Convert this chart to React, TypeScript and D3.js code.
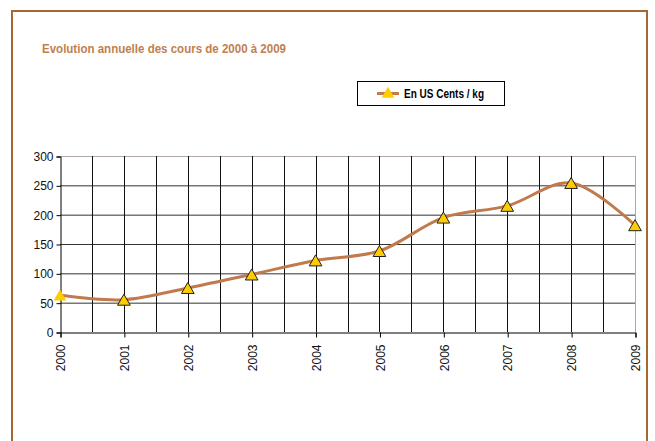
import { useEffect, useRef } from 'react';
import * as d3 from 'd3';

const years = [2000, 2001, 2002, 2003, 2004, 2005, 2006, 2007, 2008, 2009];
const prices = [63, 55, 75, 98, 122, 138, 195, 215, 254, 182];
const yTicks = [0, 50, 100, 150, 200, 250, 300];
const title = 'Evolution annuelle des cours de 2000 à 2009';
const seriesName = 'En US Cents / kg';

const FONT = '"Liberation Sans", Arial, sans-serif';

export default function App() {
  const svgRef = useRef<SVGSVGElement>(null);

  useEffect(() => {
    if (!svgRef.current) return;
    const svg = d3.select(svgRef.current);
    svg.selectAll('*').remove();

    const width = 655;
    const height = 441;

    svg.append('rect')
      .attr('width', width)
      .attr('height', height)
      .attr('fill', '#fff');

    // outer frame
    svg.append('rect')
      .attr('x', 12)
      .attr('y', 11)
      .attr('width', 635)
      .attr('height', 440)
      .attr('fill', 'none')
      .attr('stroke', '#a5692f')
      .attr('stroke-width', 2);

    svg.append('text')
      .attr('x', 42)
      .attr('y', 53)
      .attr('font-family', FONT)
      .attr('font-size', 12.5)
      .attr('font-weight', 'bold')
      .attr('fill', '#c0804e')
      .attr('textLength', 244)
      .attr('lengthAdjust', 'spacingAndGlyphs')
      .text(title);

    const x = d3.scaleLinear().domain([2000, 2009]).range([60, 635]);
    const y = d3.scaleLinear().domain([0, 300]).range([332, 156]);

    const g = svg.append('g');

    // Grid
    g.selectAll('.hgrid')
      .data(yTicks.filter(d => d > 0))
      .join('line')
      .attr('x1', x(2000))
      .attr('x2', x(2009))
      .attr('y1', d => y(d) + 0.5)
      .attr('y2', d => y(d) + 0.5)
      .attr('stroke', d => (d === 300 ? '#b0a8a8' : '#333'))
      .attr('stroke-width', 1);

    const halfSteps = d3.range(2000.5, 2009.01, 0.5);
    g.selectAll('.vgrid')
      .data(halfSteps)
      .join('line')
      .attr('x1', d => Math.round(x(d)) + 0.5)
      .attr('x2', d => Math.round(x(d)) + 0.5)
      .attr('y1', y(300))
      .attr('y2', y(0))
      .attr('stroke', d => (d === 2009 ? '#b0a8a8' : '#111'))
      .attr('stroke-width', 1);

    // Y axis
    const yAxis = g.append('g')
      .attr('transform', `translate(${x(2000) + 0.5},0.5)`)
      .call(d3.axisLeft(y).tickValues(yTicks).tickSize(4).tickPadding(3));
    yAxis.select('.domain').attr('stroke', '#000');
    yAxis.selectAll('line').attr('stroke', '#000');
    yAxis.selectAll('text')
      .attr('font-family', FONT)
      .attr('font-size', 12)
      .attr('fill', '#111');

    // X axis
    const xAxis = g.append('g')
      .attr('transform', `translate(0.5,${y(0) + 0.5})`)
      .call(d3.axisBottom(x).tickValues(years).tickFormat(d3.format('d')).tickSize(5).tickPadding(4));
    xAxis.select('.domain').attr('stroke', '#000');
    xAxis.selectAll('line').attr('stroke', '#000');
    xAxis.selectAll('text')
      .attr('font-family', FONT)
      .attr('font-size', 12)
      .attr('fill', '#111')
      .attr('transform', 'rotate(-90)')
      .attr('text-anchor', 'end')
      .attr('x', -12)
      .attr('y', 0)
      .attr('dy', '0.35em');

    // Series
    const line = d3.line<number>()
      .x((_, i) => x(years[i]))
      .y(d => y(d))
      .curve(d3.curveCatmullRom.alpha(0.5));

    g.append('path')
      .datum(prices)
      .attr('d', line)
      .attr('fill', 'none')
      .attr('stroke', '#c07a4c')
      .attr('stroke-width', 3);

    // triangle bbox centred on the point, like the spreadsheet markers
    const tri = d3.symbol().type(d3.symbolTriangle).size(70);
    g.selectAll('.marker')
      .data(prices)
      .join('path')
      .attr('d', tri)
      .attr('transform', (d, i) => `translate(${x(years[i])},${y(d) + 1.8})`)
      .attr('fill', '#ffcc00')
      .attr('stroke', (_, i) => (i === 0 ? 'none' : '#222'))
      .attr('stroke-width', 1);

    // Legend
    const lg = svg.append('g').attr('transform', 'translate(357,81)');
    lg.append('rect')
      .attr('x', 0.5)
      .attr('y', 0.5)
      .attr('width', 147)
      .attr('height', 24)
      .attr('fill', '#fff')
      .attr('stroke', '#000');
    lg.append('line')
      .attr('x1', 20)
      .attr('x2', 42)
      .attr('y1', 12.5)
      .attr('y2', 12.5)
      .attr('stroke', '#c07a4c')
      .attr('stroke-width', 3);
    lg.append('path')
      .attr('d', tri)
      .attr('transform', 'translate(31,13)')
      .attr('fill', '#ffcc00');
    lg.append('text')
      .attr('x', 47)
      .attr('y', 17)
      .attr('font-family', FONT)
      .attr('font-size', 12)
      .attr('font-weight', 'bold')
      .attr('fill', '#000')
      .attr('textLength', 80)
      .attr('lengthAdjust', 'spacingAndGlyphs')
      .text(seriesName);
  }, []);

  return (
    <svg
      ref={svgRef}
      width={655}
      height={441}
      style={{ position: 'absolute', left: 0, top: 0 }}
    />
  );
}
